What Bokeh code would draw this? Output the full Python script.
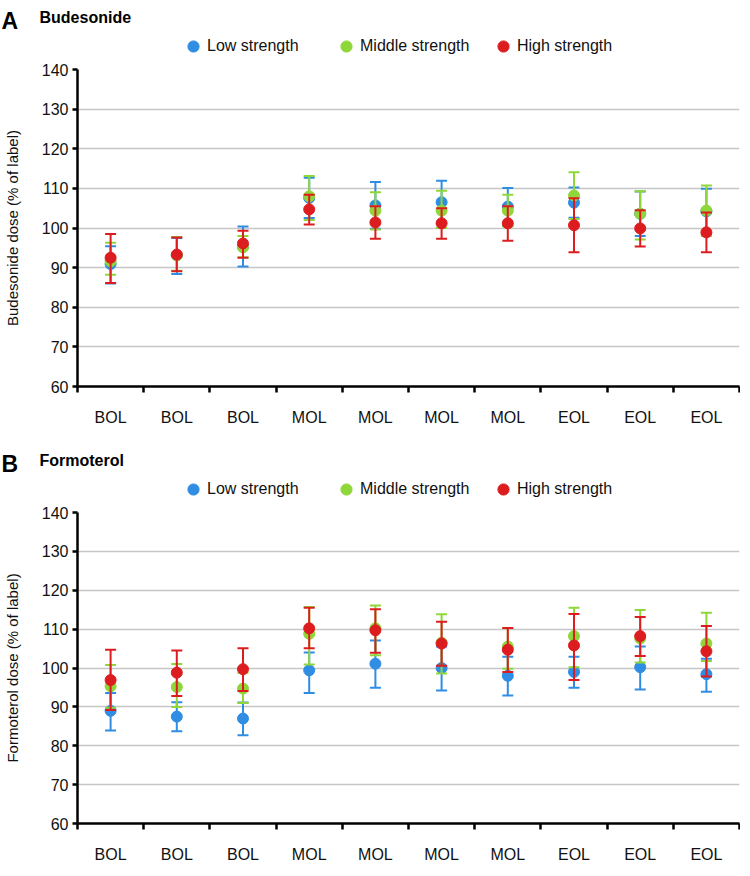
from bokeh.plotting import figure
from bokeh.models import FixedTicker, Legend, LegendItem, Label
from bokeh.layouts import column
from bokeh.embed import file_html
from bokeh.resources import INLINE

FONT = "Liberation Sans"
W = 740

x_labels = ["BOL", "BOL", "BOL", "MOL", "MOL", "MOL", "MOL", "EOL", "EOL", "EOL"]
positions = list(range(1, 11))
y_ticks = [60, 70, 80, 90, 100, 110, 120, 130, 140]
series_names = ["Low strength", "Middle strength", "High strength"]
series_colors = ["#2f8de4", "#8fd63a", "#dc1c1f"]

# Panel A: Budesonide (mean, upper bar end, lower bar end)
bud_low_mean = [90.9, 93.1, 95.3, 107.6, 105.7, 106.5, 105.4, 106.4, 103.6, 104.2]
bud_low_upper = [95.4, 97.5, 100.4, 112.7, 111.6, 111.9, 110.1, 110.2, 109.2, 109.9]
bud_low_lower = [86.0, 88.4, 90.3, 102.5, 99.8, 101.2, 100.5, 102.6, 98.0, 98.5]

bud_mid_mean = [91.6, 93.1, 95.1, 108.0, 104.4, 104.4, 104.4, 108.2, 103.6, 104.4]
bud_mid_upper = [96.3, 97.7, 98.0, 113.1, 109.0, 109.4, 108.4, 114.1, 109.3, 110.7]
bud_mid_lower = [88.2, 89.2, 92.6, 102.0, 99.6, 100.0, 100.4, 102.3, 97.1, 98.0]

bud_high_mean = [92.5, 93.3, 96.1, 104.7, 101.4, 101.2, 101.2, 100.7, 99.9, 98.9]
bud_high_upper = [98.5, 97.6, 99.3, 108.4, 105.5, 105.0, 105.5, 107.5, 104.5, 103.9]
bud_high_lower = [86.1, 89.1, 92.5, 100.9, 97.3, 97.3, 96.8, 93.9, 95.3, 93.9]

# Panel B: Formoterol
for_low_mean = [89.0, 87.5, 87.0, 99.4, 101.1, 100.0, 98.0, 99.0, 100.2, 98.4]
for_low_upper = [93.6, 91.2, 91.1, 104.0, 107.1, 105.5, 102.9, 102.9, 105.5, 102.4]
for_low_lower = [83.9, 83.7, 82.7, 93.6, 94.9, 94.2, 92.9, 94.9, 94.5, 93.9]

for_mid_mean = [95.3, 95.1, 94.7, 108.8, 110.2, 106.5, 105.5, 108.2, 107.6, 106.3]
for_mid_upper = [100.8, 101.0, 98.8, 115.7, 116.1, 113.8, 110.3, 115.5, 114.9, 114.2]
for_mid_lower = [89.8, 90.0, 91.0, 100.9, 103.3, 98.6, 99.8, 100.2, 101.4, 101.8]

for_high_mean = [96.9, 98.8, 99.7, 110.2, 109.7, 106.3, 104.7, 105.8, 108.2, 104.3]
for_high_upper = [104.7, 104.5, 105.1, 115.5, 115.1, 111.9, 110.3, 113.9, 113.1, 110.8]
for_high_lower = [89.2, 92.8, 94.1, 105.1, 103.9, 100.6, 99.0, 96.9, 103.1, 97.8]

bud_series = [
    (bud_low_mean, bud_low_upper, bud_low_lower),
    (bud_mid_mean, bud_mid_upper, bud_mid_lower),
    (bud_high_mean, bud_high_upper, bud_high_lower),
]
for_series = [
    (for_low_mean, for_low_upper, for_low_lower),
    (for_mid_mean, for_mid_upper, for_mid_lower),
    (for_high_mean, for_high_upper, for_high_lower),
]

LEGEND_X = [179, 332, 489]
NAN = float("nan")


def make_header(letter, title, height):
    h = figure(width=W, height=height, x_range=(0, W), y_range=(0, height),
               x_axis_type=None, y_axis_type=None, title=None,
               output_backend="svg", toolbar_location=None, frame_align=False,
               min_border=0, min_border_left=0, min_border_right=0,
               min_border_top=0, min_border_bottom=0)
    h.outline_line_color = None
    h.add_layout(Label(x=1, y=38, text=letter, text_font=FONT,
                       text_font_style="bold", text_font_size="23px",
                       text_color="black", text_baseline="alphabetic"))
    h.add_layout(Label(x=39, y=41, text=title, text_font=FONT,
                       text_font_style="bold", text_font_size="16px",
                       text_color="black", text_baseline="alphabetic"))
    for name, color, lx in zip(series_names, series_colors, LEGEND_X):
        r = h.scatter(x=[NAN], y=[NAN], marker="circle", size=11,
                      fill_color=color, line_color=color)
        lg = Legend(items=[LegendItem(label=name, renderers=[r])],
                    location=(lx, -2), orientation="horizontal",
                    padding=0, margin=0, glyph_width=28, glyph_height=28,
                    label_height=20, label_standoff=-4, label_text_font=FONT,
                    label_text_font_size="16px", label_text_color="#111111",
                    border_line_color=None, background_fill_alpha=0)
        h.add_layout(lg)
    return h


def make_panel(ylabel, series, height, border_top, border_bottom):
    p = figure(width=W, height=height, x_range=(0.5, 10.5), y_range=(60, 140),
               output_backend="svg", toolbar_location=None, title=None,
               frame_align=False,
               min_border_left=69, min_border_right=1,
               min_border_top=border_top, min_border_bottom=border_bottom)
    p.outline_line_color = None
    p.xgrid.visible = False
    p.ygrid.grid_line_color = "#c6c6c6"
    p.ygrid.grid_line_width = 1.6

    # x axis: labels at category centres, tick marks between categories
    p.xaxis.ticker = FixedTicker(ticks=positions,
                                 minor_ticks=[i + 0.5 for i in range(0, 11)])
    p.xaxis.major_label_overrides = {pos: lab for pos, lab in zip(positions, x_labels)}
    p.xaxis.major_tick_out = 0
    p.xaxis.major_tick_in = 0
    p.xaxis.minor_tick_out = 6
    p.xaxis.minor_tick_in = 0
    p.xaxis.minor_tick_line_width = 2.5
    p.xaxis.minor_tick_line_color = "black"
    p.xaxis.axis_line_width = 2.5
    p.xaxis.axis_line_color = "black"
    p.xaxis.major_label_standoff = 16
    p.xaxis.major_label_text_font = FONT
    p.xaxis.major_label_text_font_size = "16px"
    p.xaxis.major_label_text_color = "#111111"

    p.yaxis.ticker = FixedTicker(ticks=y_ticks, minor_ticks=[])
    p.ygrid.ticker = FixedTicker(ticks=y_ticks)
    p.yaxis.major_tick_out = 5
    p.yaxis.major_tick_in = 0
    p.yaxis.major_tick_line_width = 2.5
    p.yaxis.axis_line_width = 2.5
    p.yaxis.axis_line_color = "black"
    p.yaxis.major_label_standoff = 4
    p.yaxis.major_label_text_font = FONT
    p.yaxis.major_label_text_font_size = "16px"
    p.yaxis.major_label_text_color = "#111111"
    p.yaxis.axis_label = ylabel
    p.yaxis.axis_label_text_font = FONT
    p.yaxis.axis_label_text_font_size = "15px"
    p.yaxis.axis_label_text_font_style = "normal"
    p.yaxis.axis_label_text_color = "#111111"
    p.yaxis.axis_label_standoff = 18

    for (mean, upper, lower), color in zip(series, series_colors):
        p.segment(x0=positions, y0=lower, x1=positions, y1=upper,
                  line_color=color, line_width=2)
        p.scatter(x=positions + positions, y=list(upper) + list(lower), marker="dash",
                  size=11, line_color=color, line_width=2)
        p.scatter(x=positions, y=mean, marker="circle", size=11,
                  fill_color=color, line_color=color)
    return p


ha = make_header("A", "Budesonide", 58)
pa = make_panel("Budesonide dose (% of label)", bud_series, 370, 11, 37)
hb = make_header("B", "Formoterol", 73)
pb = make_panel("Formoterol dose (% of label)", for_series, 364, 11, 31)

layout = column(ha, pa, hb, pb, spacing=0)
open("out.html", "w").write(file_html(layout, INLINE))
